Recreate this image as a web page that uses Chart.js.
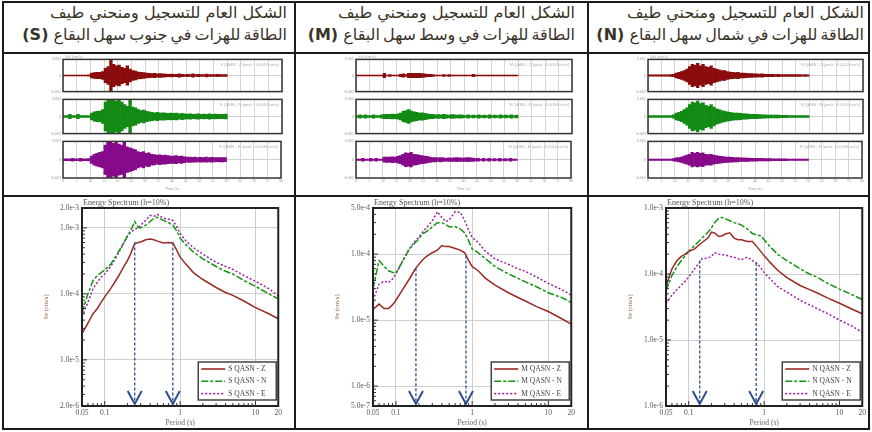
<!DOCTYPE html>
<html><head><meta charset="utf-8">
<script src="https://cdn.jsdelivr.net/npm/chart.js@4.4.0/dist/chart.umd.min.js"></script>
<style>
body{margin:0;background:#fff;width:872px;height:432px;overflow:hidden;position:relative;}
.ln{position:absolute;background:#1a1a1a;}
.hd{position:absolute;direction:rtl;text-align:right;color:#3a3328;font-family:"DejaVu Sans";font-size:16px;line-height:22px;white-space:nowrap;}
.hd span{word-spacing:-2px;}
.hd b{font-weight:bold;}
canvas{position:absolute;}
</style></head><body>
<div class="ln" style="left:2px;top:1px;width:868px;height:2px"></div>
<div class="ln" style="left:2px;top:52px;width:868px;height:2px"></div>
<div class="ln" style="left:2px;top:195px;width:868px;height:2px"></div>
<div class="ln" style="left:2px;top:428px;width:868px;height:2px"></div>
<div class="ln" style="left:2px;top:1px;width:2px;height:429px"></div>
<div class="ln" style="left:294px;top:1px;width:2px;height:429px"></div>
<div class="ln" style="left:587px;top:1px;width:2px;height:429px"></div>
<div class="ln" style="left:868px;top:1px;width:2px;height:429px"></div>
<div id="root"></div>
<script>
// ---------- DATA ----------
const headerLine1 = ["الشكل  العام للتسجيل ومنحني طيف", "الشكل  العام للتسجيل ومنحني طيف", "الشكل  العام للتسجيل ومنحني طيف"];
const headerLine2 = ["الطاقة للهزات في جنوب سهل البقاع", "الطاقة للهزات في وسط سهل البقاع", "الطاقة للهزات في شمال سهل البقاع"];
const zoneCodes = ["S", "M", "N"];
const componentNames = ["Z", "N", "E"];

const periods = [0.05,0.06,0.07,0.08,0.09,0.1,0.12,0.15,0.18,0.2,0.22,0.25,0.28,0.3,0.35,0.4,0.45,0.5,0.6,0.7,0.8,0.9,1,1.2,1.5,2,3,4,5,7,10,15,20];

const specS_Z = [2.5e-5,3.6e-5,5e-5,6e-5,7.5e-5,9e-5,1.2e-4,1.8e-4,2.6e-4,3.2e-4,4.0e-4,5.8e-4,6.0e-4,6.1e-4,6.6e-4,6.8e-4,6.6e-4,6.3e-4,5.9e-4,6.0e-4,5.9e-4,4.6e-4,3.6e-4,2.8e-4,2.1e-4,1.65e-4,1.25e-4,1.05e-4,9.5e-5,7.8e-5,6.2e-5,5.0e-5,4.2e-5];
const specS_N = [5.2e-5,1.0e-4,1.6e-4,1.9e-4,2.1e-4,2.3e-4,2.8e-4,4.2e-4,6.0e-4,7.5e-4,9.0e-4,1.25e-3,1.0e-3,1.0e-3,1.1e-3,1.25e-3,1.4e-3,1.45e-3,1.3e-3,1.2e-3,1.1e-3,9.0e-4,7.0e-4,5.5e-4,4.3e-4,3.4e-4,2.6e-4,2.2e-4,2.0e-4,1.6e-4,1.3e-4,1.0e-4,8.4e-5];
const specS_E = [4.5e-5,7.5e-5,1.2e-4,1.5e-4,1.8e-4,2.0e-4,2.6e-4,4.0e-4,6.0e-4,7.5e-4,8.5e-4,9.5e-4,1.0e-3,1.1e-3,1.3e-3,1.55e-3,1.5e-3,1.6e-3,1.4e-3,1.35e-3,1.3e-3,1.05e-3,8.2e-4,6.3e-4,5.0e-4,4.0e-4,3.0e-4,2.6e-4,2.35e-4,1.9e-4,1.55e-4,1.2e-4,9.3e-5];

const specM_Z = [1.45e-5,1.75e-5,1.5e-5,1.5e-5,1.7e-5,2.0e-5,2.8e-5,4.2e-5,6.0e-5,7.0e-5,8.0e-5,9.2e-5,1.0e-4,1.05e-4,1.15e-4,1.35e-4,1.3e-4,1.3e-4,1.22e-4,1.15e-4,1.05e-4,8.0e-5,6.5e-5,5.6e-5,4.3e-5,3.4e-5,2.6e-5,2.2e-5,1.95e-5,1.6e-5,1.35e-5,1.05e-5,8.7e-6];
const specM_N = [3.0e-5,8.0e-5,6.5e-5,5.6e-5,5.3e-5,5.2e-5,7.5e-5,1.2e-4,1.5e-4,1.7e-4,2.0e-4,2.2e-4,2.4e-4,2.6e-4,3.0e-4,3.0e-4,2.8e-4,2.6e-4,2.6e-4,2.4e-4,2.1e-4,1.6e-4,1.2e-4,1.05e-4,8.5e-5,6.5e-5,5.0e-5,4.3e-5,3.8e-5,3.2e-5,2.6e-5,2.2e-5,1.85e-5];
const specM_E = [2.0e-5,3.5e-5,3.9e-5,3.7e-5,4.2e-5,5.0e-5,7.5e-5,1.2e-4,1.6e-4,1.8e-4,2.1e-4,2.5e-4,2.9e-4,3.2e-4,4.4e-4,3.6e-4,3.1e-4,3.3e-4,4.4e-4,4.3e-4,3.2e-4,2.3e-4,1.8e-4,1.5e-4,1.1e-4,8.5e-5,7.0e-5,6.0e-5,5.5e-5,4.5e-5,3.6e-5,2.9e-5,2.4e-5];

const specN_Z = [6.5e-5,1.2e-4,1.6e-4,1.85e-4,2.0e-4,2.2e-4,2.4e-4,3.0e-4,3.5e-4,4.3e-4,4.2e-4,3.7e-4,3.8e-4,4.0e-4,4.2e-4,3.5e-4,3.3e-4,3.3e-4,3.1e-4,3.1e-4,2.6e-4,2.2e-4,1.9e-4,1.5e-4,1.15e-4,8.8e-5,6.7e-5,5.8e-5,5.2e-5,4.3e-5,3.6e-5,2.9e-5,2.5e-5];
const specN_N = [5.5e-5,9.5e-5,1.3e-4,1.6e-4,1.9e-4,2.2e-4,2.7e-4,3.5e-4,4.3e-4,5.0e-4,6.0e-4,7.0e-4,7.2e-4,7.0e-4,6.4e-4,6.0e-4,5.8e-4,5.5e-4,4.8e-4,4.1e-4,3.9e-4,3.8e-4,3.3e-4,2.6e-4,2.0e-4,1.6e-4,1.2e-4,1.0e-4,9.0e-5,7.2e-5,5.9e-5,4.8e-5,4.1e-5];
const specN_E = [3.6e-5,4.8e-5,5.8e-5,6.8e-5,7.8e-5,9.0e-5,1.2e-4,1.7e-4,1.75e-4,1.85e-4,2.1e-4,2.0e-4,1.95e-4,1.95e-4,1.85e-4,1.8e-4,1.7e-4,1.65e-4,1.8e-4,1.6e-4,1.45e-4,1.25e-4,1.05e-4,8.5e-5,6.5e-5,5.3e-5,4.0e-5,3.4e-5,3.0e-5,2.5e-5,2.0e-5,1.6e-5,1.3e-5];

const arrowPeriodsS = [0.25, 0.8];   const arrowTopsS = [6.0e-4, 6.0e-4];
const arrowPeriodsM = [0.183, 0.83]; const arrowTopsM = [6.1e-5, 9.5e-5];
const arrowPeriodsN = [0.14, 0.785]; const arrowTopsN = [1.6e-4, 1.47e-4];

const yTickValsS = [2e-3,1e-3,1e-4,1e-5,2e-6]; const yTickLabelsS = ["2.0e-3","1.0e-3","1.0e-4","1.0e-5","2.0e-6"];
const yTickValsM = [5e-4,1e-4,1e-5,1e-6,5e-7]; const yTickLabelsM = ["5.0e-4","1.0e-4","1.0e-5","1.0e-6","5.0e-7"];
const yTickValsN = [1e-3,1e-4,1e-5,1e-6];      const yTickLabelsN = ["1.0e-3","1.0e-4","1.0e-5","1.0e-6"];
const xTickVals = [0.05,0.1,1,10,20]; const xTickLabels = ["0.05","0.1","1","10","20"];

// seismogram envelopes, one value per second (0..59 s), relative to panel half-height
const seisS_Z = [.03,.03,.03,.03,.03,.03,.03,.03,.03,.04,.15,.18,.2,.2,.25,.45,.55,1.0,.7,.6,.65,.5,.45,.6,.4,.3,.28,.22,.2,.18,.15,.13,.12,.13,.1,.12,.1,.09,.08,.09,.07,.07,.1,.07,.06,.07,.06,.1,.06,.07,.06,.06,.09,.06,.05,.06,.08,.05,.06,.05];
const seisS_N = [.05,.05,.12,.05,.05,.12,.05,.05,.05,.06,.2,.28,.3,.32,.4,.85,1.0,.95,1.0,.9,1.0,.85,.7,.6,1.0,.55,.5,.4,.35,.38,.3,.28,.25,.22,.25,.2,.22,.2,.18,.2,.18,.2,.16,.18,.15,.14,.16,.13,.14,.15,.12,.14,.13,.15,.12,.14,.12,.13,.12,.14];
const seisS_E = [.05,.05,.05,.08,.05,.05,.08,.05,.05,.06,.2,.3,.35,.4,.45,.8,1.0,1.0,.9,1.0,.85,.8,1.0,.7,.65,.6,.55,.45,.4,.45,.35,.38,.3,.28,.25,.27,.24,.25,.22,.2,.2,.22,.18,.2,.16,.14,.15,.13,.14,.12,.13,.12,.14,.12,.13,.12,.11,.12,.12,.11];
const seisM_Z = [.03,.03,.03,.03,.03,.03,.03,.03,.03,.03,.13,.03,.06,.03,.03,.03,.08,.1,.06,.13,.14,.13,.14,.13,.12,.1,.08,.08,.05,.03,.03,.03,.06,.03,.06,.03,.03,.03,.03,.03,.03,.03,.03,.07,.03,.03,.03,.03,.03,.03,.03,.03,.03,.03,.03,.03,.03,.03,.03,.03];
const seisM_N = [.05,.1,.05,.1,.05,.05,.1,.05,.05,.1,.12,.13,.12,.14,.12,.15,.2,.3,.35,.4,.32,.28,.25,.2,.22,.18,.15,.13,.12,.1,.11,.1,.12,.1,.09,.11,.1,.08,.1,.09,.06,.1,.05,.09,.05,.1,.05,.08,.05,.1,.05,.09,.05,.1,.05,.08,.05,.1,.05,.08];
const seisM_E = [.04,.04,.08,.04,.04,.08,.04,.08,.04,.04,.14,.15,.14,.16,.15,.18,.22,.3,.38,.35,.4,.3,.28,.25,.22,.2,.18,.15,.12,.12,.1,.12,.1,.08,.1,.09,.1,.11,.1,.09,.1,.11,.1,.09,.06,.08,.04,.08,.04,.08,.04,.06,.04,.08,.04,.06,.04,.08,.04,.04];
const seisN_Z = [.04,.04,.04,.04,.04,.04,.04,.04,.05,.08,.15,.2,.25,.3,.4,.55,.7,.65,.75,.6,.7,.55,.5,.6,.45,.4,.35,.3,.3,.25,.22,.2,.18,.2,.15,.15,.13,.12,.12,.1,.1,.09,.1,.08,.08,.07,.08,.06,.07,.06,.06,.05,.06,.05,.05,.05,.05,.04,.05,.04];
const seisN_N = [.05,.05,.05,.06,.05,.05,.06,.05,.06,.1,.2,.25,.3,.4,.5,.7,.85,.8,.9,.75,.8,.65,.6,.7,.55,.45,.4,.35,.3,.28,.25,.22,.2,.2,.18,.16,.15,.14,.13,.12,.12,.11,.1,.1,.09,.09,.08,.08,.08,.07,.07,.07,.06,.06,.06,.06,.05,.05,.05,.05];
const seisN_E = [.04,.04,.04,.04,.04,.04,.04,.04,.04,.06,.1,.12,.15,.2,.25,.3,.4,.35,.4,.35,.38,.3,.28,.3,.25,.22,.2,.18,.16,.15,.14,.13,.12,.12,.1,.1,.09,.09,.08,.08,.08,.07,.07,.06,.06,.06,.05,.05,.05,.05,.05,.05,.04,.04,.04,.04,.04,.04,.04,.04];
const seisPeakLabels = [["0.0019","0.0041","0.0046"],["0.0003","0.0009","0.0010"],["0.0012","0.0015","0.0008"]];

// ---------- STYLE / LAYOUT ----------
const compColors = ["#9b2a26", "#129412", "#9b1fa0"];
const seisColors = ["#8a0c0c", "#138a13", "#860a8a"];
const compDash = [[], [7,2,3,2], [2,2]];
const colHeaderRight = [287, 575, 864];
const seisBoxLeft = [63, 356, 648];
const seisBoxWidth = [219, 216, 215];
const seisBoxTops = [[59,94],[99,136],[141,178]];
const specPlotLeft = [82, 373, 666];
const specPlotRight = [279, 572, 863];

Chart.defaults.font.family = '"Liberation Serif", serif';

const cols = [
  {spec:[specS_Z,specS_N,specS_E], seis:[seisS_Z,seisS_N,seisS_E], ap:arrowPeriodsS, at:arrowTopsS, yv:yTickValsS, yl:yTickLabelsS},
  {spec:[specM_Z,specM_N,specM_E], seis:[seisM_Z,seisM_N,seisM_E], ap:arrowPeriodsM, at:arrowTopsM, yv:yTickValsM, yl:yTickLabelsM},
  {spec:[specN_Z,specN_N,specN_E], seis:[seisN_Z,seisN_N,seisN_E], ap:arrowPeriodsN, at:arrowTopsN, yv:yTickValsN, yl:yTickLabelsN}
];

const root = document.getElementById('root');
function mkCanvas(l,t,w,h){const c=document.createElement('canvas');c.width=w;c.height=h;c.style.left=l+'px';c.style.top=t+'px';c.style.width=w+'px';c.style.height=h+'px';root.appendChild(c);return c;}
function key(v){return Number(v).toPrecision(4);}
function isDecade(v){const l=Math.log10(v);return Math.abs(l-Math.round(l))<1e-6;}
function logTicks(min,max){const out=[];for(let d=Math.floor(Math.log10(min));d<=Math.ceil(Math.log10(max));d++){for(let k=1;k<10;k++){const v=Number((k*Math.pow(10,d)).toPrecision(6));if(v>=min*0.9999&&v<=max*1.0001)out.push(v);}}return out;}

cols.forEach((col,ci)=>{
  // header
  const h=document.createElement('div');h.className='hd';h.style.top='2px';h.style.right=(872-colHeaderRight[ci])+'px';
  h.innerHTML=headerLine1[ci]+'<br><span>'+headerLine2[ci]+'</span> <b>('+zoneCodes[ci]+')</b>';
  root.appendChild(h);

  // seismograms
  col.seis.forEach((amps,si)=>{
    const showX = si===2;
    const xh = showX?13:2;
    const [bt,bb]=seisBoxTops[si];
    const c = mkCanvas(seisBoxLeft[ci]-15, bt-4, seisBoxWidth[ci]+17, (bb-bt)+4+xh);
    const lbl = zoneCodes[ci]+' QASN - '+componentNames[si]+' (peak : '+seisPeakLabels[ci][si]+' cm/s)';
    new Chart(c,{type:'bar',
      data:{datasets:[{data:amps.map((a,i)=>({x:i+0.5,y:[-a,a]})),backgroundColor:seisColors[si],borderWidth:0,barPercentage:1,categoryPercentage:1}]},
      options:{responsive:false,animation:false,layout:{padding:{top:4,right:2,left:0,bottom:0}},
        plugins:{legend:{display:false},tooltip:{enabled:false}},
        scales:{
          x:{type:'linear',min:0,max:80,offset:false,
             ticks:{display:showX,stepSize:5,font:{size:4},color:'#999',padding:1,maxRotation:0,autoSkip:false},
             grid:{color:'#d6d6d6',drawTicks:false,offset:false},border:{display:false},
             title:{display:showX,text:'Time (s)',font:{size:4},color:'#999',padding:0},
             afterFit:s=>{s.height=xh;}},
          y:{min:-1,max:1,afterBuildTicks:s=>{s.ticks=[{value:-1},{value:0},{value:1}];},
             ticks:{font:{size:4},color:'#999',padding:2,callback:v=>v===0?'0':(v>0?'0.002':'-0.002')},
             grid:{drawTicks:false,color:c=>(c.tick&&c.tick.value===0)?'#d0d0d0':'transparent'},border:{display:false},
             afterFit:s=>{s.width=15;}}
        }},
      plugins:[{id:'seisframe',afterDraw(chart){const {ctx,chartArea:a}=chart;ctx.save();
        ctx.strokeStyle='#333';ctx.lineWidth=1.5;ctx.strokeRect(a.left,a.top,a.width,a.height);
        ctx.fillStyle='#aaa';ctx.font='4px "Liberation Sans"';ctx.textAlign='right';ctx.textBaseline='top';
        ctx.fillText(lbl,a.right-3,a.top+3);
        if(si===0){ctx.textAlign='left';ctx.textBaseline='bottom';ctx.fillText('Vel (cm/s)',a.left+2,a.top-0.5);}
        ctx.restore();}}]
    });
  });

  // spectrum
  const pl=specPlotLeft[ci], pr=specPlotRight[ci];
  const c = mkCanvas(pl-40,197,(pr-pl)+46,231);
  const yMap={};col.yv.forEach((v,i)=>yMap[key(v)]=col.yl[i]);
  const xMap={};xTickVals.forEach((v,i)=>xMap[key(v)]=xTickLabels[i]);
  const yMin=Math.min(...col.yv), yMax=Math.max(...col.yv);
  const labels = componentNames.map(n=>zoneCodes[ci]+' QASN - '+n);
  new Chart(c,{type:'line',
    data:{datasets:col.spec.map((vals,si)=>({label:labels[si],data:periods.map((p,i)=>({x:p,y:vals[i]})),borderColor:compColors[si],borderWidth:1.5,borderDash:compDash[si],pointRadius:0,tension:0,fill:false}))},
    options:{responsive:false,animation:false,layout:{padding:{top:11,right:6,left:0,bottom:0}},
      plugins:{legend:{display:false},tooltip:{enabled:false}},
      scales:{
        x:{type:'logarithmic',min:0.05,max:20,
           afterBuildTicks:s=>{s.ticks=logTicks(0.05,20).map(v=>({value:v}));},
           afterFit:s=>{s.height=22;},
           ticks:{autoSkip:false,maxRotation:0,padding:3,font:{size:7.5},color:'#555',callback:v=>xMap[key(v)]??''},
           grid:{drawTicks:false,color:c=>(c.tick&&isDecade(c.tick.value))?'#cfcfcf':'transparent'},
           border:{display:false},
           title:{display:true,text:'Period (s)',font:{size:7.5},color:'#666',padding:0}},
        y:{type:'logarithmic',min:yMin,max:yMax,
           afterBuildTicks:s=>{s.ticks=logTicks(yMin,yMax).map(v=>({value:v}));},
           afterFit:s=>{s.width=40;},
           ticks:{autoSkip:false,padding:3,font:{size:7.5},color:'#555',callback:v=>yMap[key(v)]??''},
           grid:{drawTicks:false,color:c=>(c.tick&&isDecade(c.tick.value))?'#cfcfcf':'transparent'},
           border:{display:false},
           title:{display:true,text:'Sv (cm/s)',font:{size:6.5},color:'#8a5a3a',padding:0}}
      }},
    plugins:[{id:'specdeco',afterDatasetsDraw(chart){
      const {ctx,chartArea:a,scales:{x,y}}=chart;ctx.save();
      ctx.strokeStyle='#333';ctx.lineWidth=1;
      x.ticks.forEach(t=>{const px=x.getPixelForValue(t.value);const len=isDecade(t.value)?5:3;ctx.beginPath();ctx.moveTo(px,a.bottom);ctx.lineTo(px,a.bottom-len);ctx.stroke();});
      y.ticks.forEach(t=>{const py=y.getPixelForValue(t.value);const len=isDecade(t.value)?5:3;ctx.beginPath();ctx.moveTo(a.left,py);ctx.lineTo(a.left+len,py);ctx.stroke();});
      // arrows
      col.ap.forEach((p,i)=>{const px=x.getPixelForValue(p),py=y.getPixelForValue(col.at[i]);const yb=a.bottom-2;
        ctx.strokeStyle='#2d4e8f';ctx.lineWidth=1.3;ctx.setLineDash([3,2]);
        ctx.beginPath();ctx.moveTo(px,py);ctx.lineTo(px,yb);ctx.stroke();ctx.setLineDash([]);
        ctx.lineWidth=2;ctx.beginPath();ctx.moveTo(px-7,yb-13);ctx.lineTo(px,yb);ctx.lineTo(px+7,yb-13);ctx.stroke();});
      // frame
      ctx.strokeStyle='#222';ctx.lineWidth=2;ctx.strokeRect(a.left,a.top,a.width,a.height);
      // title
      ctx.fillStyle='#555';ctx.font='8px "Liberation Serif"';ctx.textBaseline='bottom';ctx.textAlign='left';
      ctx.fillText('Energy Spectrum (h=10%)',a.left+1,a.top-1);
      // legend
      const bw=78,bh=38,bx=a.right-2-bw,by=a.bottom-6-bh;
      ctx.fillStyle='#fff';ctx.fillRect(bx,by,bw,bh);ctx.strokeStyle='#444';ctx.lineWidth=1.5;ctx.strokeRect(bx,by,bw,bh);
      labels.forEach((lb,si)=>{const yy=by+7+si*12.3;ctx.strokeStyle=compColors[si];ctx.lineWidth=1.6;ctx.setLineDash(compDash[si]);
        ctx.beginPath();ctx.moveTo(bx+3,yy);ctx.lineTo(bx+27,yy);ctx.stroke();ctx.setLineDash([]);
        ctx.fillStyle='#444';ctx.font='7.5px "Liberation Serif"';ctx.textBaseline='middle';ctx.fillText(lb,bx+30,yy);});
      ctx.restore();}}]
  });
});
</script>
</body></html>
